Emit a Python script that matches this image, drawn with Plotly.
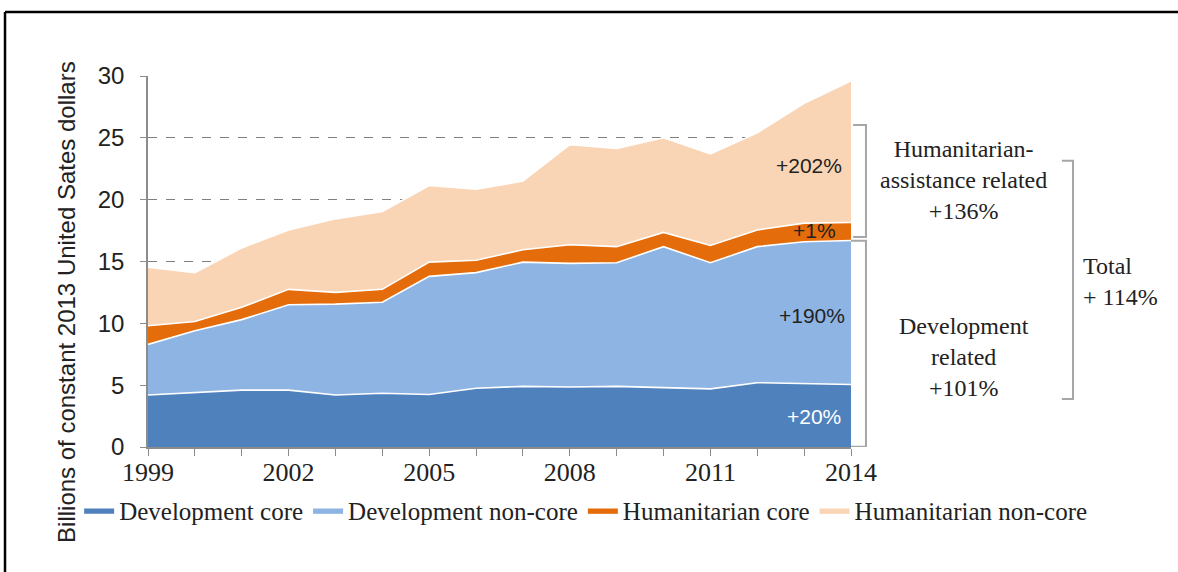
import plotly.graph_objects as go

years = list(range(1999, 2015))
dev_core = [4.2, 4.4, 4.6, 4.6, 4.2, 4.35, 4.25, 4.75, 4.9, 4.85, 4.9, 4.8, 4.7, 5.2, 5.1, 5.05]
dev_noncore = [4.1, 5.0, 5.7, 6.9, 7.35, 7.35, 9.55, 9.35, 10.05, 10.0, 10.0, 11.4, 10.2, 11.0, 11.5, 11.65]
hum_core = [1.5, 0.75, 1.0, 1.25, 0.95, 1.05, 1.15, 1.0, 1.0, 1.5, 1.3, 1.15, 1.4, 1.35, 1.5, 1.45]
hum_noncore = [4.75, 3.95, 4.8, 4.8, 5.95, 6.3, 6.2, 5.75, 5.55, 8.1, 7.95, 7.65, 7.4, 7.85, 9.7, 11.45]

series_names = ["Development core", "Development non-core", "Humanitarian core", "Humanitarian non-core"]
series_colors = ["#4F81BD", "#8EB4E3", "#E46C0A", "#FAD5B5"]
series_values = [dev_core, dev_noncore, hum_core, hum_noncore]

growth_labels = ["+20%", "+190%", "+1%", "+202%"]
x_tick_years = [1999, 2002, 2005, 2008, 2011, 2014]
y_ticks = [0, 5, 10, 15, 20, 25, 30]

SANS = "Liberation Sans"
SERIF = "Liberation Serif"
GRAY = "#8C8C8C"
TXT = "#222222"

fig = go.Figure()
for name, vals, col in zip(series_names, series_values, series_colors):
    fig.add_trace(go.Scatter(
        x=years, y=vals, name=name, stackgroup="one", mode="lines",
        line=dict(color="white", width=1.6), fillcolor=col,
    ))

# in-chart growth labels
label_pos = [(2013.2, 2.5, "white"), (2013.17, 10.67, TXT),
             (2013.23, 17.47, TXT), (2013.1, 22.8, TXT)]
for (lx, ly, lc), txt in zip(label_pos, growth_labels):
    fig.add_annotation(x=lx, y=ly, xref="x", yref="y", text=txt, showarrow=False,
                       xanchor="center", yanchor="middle",
                       font=dict(family=SANS, size=21, color=lc))

# right-side group labels
fig.add_annotation(x=1.1607, y=21.6, xref="paper", yref="y", xanchor="center", yanchor="middle",
                   text="Humanitarian-<br>assistance related<br>+136%", showarrow=False,
                   font=dict(family=SERIF, size=24, color=TXT), align="center")
fig.add_annotation(x=1.1607, y=7.28, xref="paper", yref="y", xanchor="center", yanchor="middle",
                   text="Development<br>related<br>+101%", showarrow=False,
                   font=dict(family=SERIF, size=24, color=TXT), align="center")
fig.add_annotation(x=1.327, y=13.4, xref="paper", yref="y", xanchor="left", yanchor="middle",
                   text="Total<br>+ 114%", showarrow=False,
                   font=dict(family=SERIF, size=24, color=TXT), align="left")

# y axis title as annotation
fig.add_annotation(x=-0.1152, y=0.391, xref="paper", yref="paper", textangle=-90,
                   xanchor="center", yanchor="middle",
                   text="Billions of constant 2013 United Sates dollars", showarrow=False,
                   font=dict(family=SANS, size=24, color=TXT))

# brackets
BR = dict(color="#A6A6A6", width=2)
fig.add_shape(type="path", xref="paper", yref="y",
              path="M 1.003,26.04 L 1.0213,26.04 L 1.0213,16.98 L 1.003,16.98", line=BR)
fig.add_shape(type="path", xref="paper", yref="y",
              path="M 1.0,16.68 L 1.0213,16.68 L 1.0213,0.02 L 1.0,0.02", line=BR)
fig.add_shape(type="path", xref="paper", yref="y",
              path="M 1.300,23.15 L 1.3158,23.15 L 1.3158,3.88 L 1.300,3.88", line=BR)

# outer frame (top and left edges visible)
fig.add_shape(type="line", xref="paper", yref="paper", x0=-0.2034, x1=1.47, y0=1.1725, y1=1.1725,
              line=dict(color="black", width=2.5))
fig.add_shape(type="line", xref="paper", yref="paper", x0=-0.2034, x1=-0.2034, y0=1.1725, y1=-0.4,
              line=dict(color="black", width=2.5))

fig.update_layout(
    width=1178, height=572,
    margin=dict(l=148, r=327, t=76, b=125, autoexpand=False),
    plot_bgcolor="white", paper_bgcolor="white",
    showlegend=True,
    legend=dict(orientation="h", x=1.343, xanchor="right", y=-0.17, yanchor="middle",
                font=dict(family=SERIF, size=25, color=TXT),
                traceorder="normal", itemwidth=30, tracegroupgap=0,
                bgcolor="rgba(0,0,0,0)"),
    xaxis=dict(range=[1999, 2014], tickvals=x_tick_years, ticks="outside", ticklen=7,
               tickcolor=GRAY, showline=True, linecolor=GRAY, linewidth=1.5,
               showgrid=False, zeroline=False, ticklabelstandoff=-6,
               minor=dict(dtick=1, tick0=1999, ticks="outside", ticklen=7, tickcolor=GRAY, showgrid=False),
               tickfont=dict(family=SERIF, size=26, color=TXT)),
    yaxis=dict(range=[0, 30], tickvals=y_ticks, ticks="outside", ticklen=6,
               tickcolor=GRAY, showline=True, linecolor=GRAY, linewidth=1.5,
               showgrid=True, gridcolor="#7F7F7F", griddash="dash", gridwidth=1,
               zeroline=False, ticklabelstandoff=11,
               tickfont=dict(family=SANS, size=24, color=TXT)),
)

fig.write_html("out.html", config={"displayModeBar": False},
               post_script="document.body.style.margin='0';")
